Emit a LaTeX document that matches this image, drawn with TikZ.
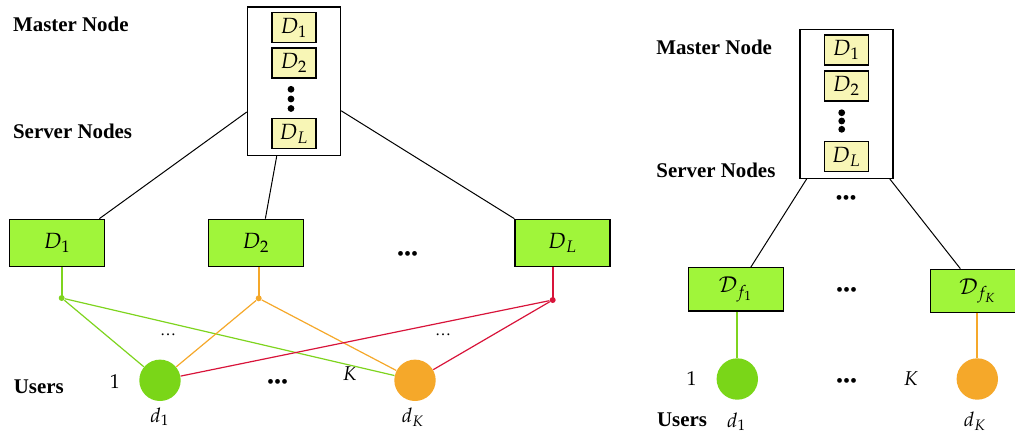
\documentclass[tikz,border=0pt]{standalone}
\usepackage{mathpazo}
\usepackage[no-math]{fontspec}
\setmainfont{Liberation Serif}
\usepackage{tikz}
\usetikzlibrary{positioning}
\definecolor{srvgreen}{HTML}{A0F53A}
\definecolor{fileyellow}{HTML}{F8F6B6}
\definecolor{ugreen}{HTML}{7AD618}
\definecolor{uorange}{HTML}{F5A82A}
\definecolor{lgreen}{HTML}{7ED41E}
\definecolor{lorange}{HTML}{F5A82A}
\definecolor{lred}{HTML}{D8143A}
\tikzset{
    master/.style={
           rectangle,
           draw=black, line width=0.65pt,
           minimum width=46.5pt, minimum height=74.25pt,
           inner sep=0pt,
           },
}
\tikzset{
    file/.style={
           rectangle,
           draw=black, line width=0.6pt,
           fill=fileyellow,
           minimum width=22pt, minimum height=15pt,
           inner sep=0pt,
           font=\fontsize{11}{13}\selectfont,
           },
}
\tikzset{
    server/.style={
           rectangle,
           draw=black, line width=0.65pt,
           fill=srvgreen,
           minimum width=47.5pt, minimum height=23.7pt,
           inner sep=0pt,
           font=\fontsize{11}{13}\selectfont,
           },
}
\tikzset{
    user/.style={
           circle,
           minimum size=20.7pt,
           inner sep=0pt,
           },
}
\tikzset{
    tap/.style={
           circle,
           minimum size=3pt,
           inner sep=0pt,
           },
}
\tikzset{
    blob/.style={circle, fill=black, minimum size=3.4pt, inner sep=0pt},
    lbl/.style={anchor=west, inner sep=0pt, font=\fontsize{10.45}{12}\selectfont\bfseries},
    num/.style={inner sep=0pt},
    dots/.style={inner sep=0pt},
    sdots/.style={inner sep=0pt, font=\footnotesize},
    link/.style={-, black, line width=0.5pt},
    wire/.style={-, line width=0.6pt},
    drop/.style={-, line width=1pt},
}
\begin{document}
\begin{tikzpicture}[x=0.5pt,y=-0.5pt]
\useasboundingbox (0,0) rectangle (1015,435);
% left: every server stores the whole library
\node[lbl](mnL) at (12.7,24){Master Node};
\node[lbl](snL) at (12.7,131){Server Nodes};
\node[lbl](usL) at (13.4,387){Users};
\node[master](ML) at (294,81.3){};
\node[file](MLa) at (294,27.5){$D_1$};
\node[file](MLb) at (294,63){$D_2$};
\node[blob](MLd1) at (291,89.3){};
\node[blob](MLd2) at (291,99){};
\node[blob](MLd3) at (291,108.5){};
\node[file](MLc) at (294,133.6){$D_L$};
\node[server](S1) at (57.2,243){$D_1$};
\node[server](S2) at (256,243){$D_2$};
\node[server](SL) at (562.5,243){$D_L$};
\node[dots](Sd) at (407.6,255.7){\textbullet\textbullet\textbullet};
\node[tap,fill=lgreen](t1) at (61.7,298){};
\node[tap,fill=lorange](t2) at (258.7,298.3){};
\node[tap,fill=lred](tL) at (552.7,300){};
\node[sdots](e1) at (168,335){\ldots};
\node[sdots](e2) at (443,335){\ldots};
\node[user,fill=ugreen](u1) at (160,380.3){};
\node[user,fill=uorange](uK) at (415,380.3){};
\node[num](n1) at (114.8,381.7){$1$};
\node[num](nK) at (350,373.3){$K$};
\node[dots](ud) at (277.5,384){\textbullet\textbullet\textbullet};
\node[num](d1) at (160,416.7){$d_1$};
\node[num](dK) at (413,417){$d_K$};
\path (ML.213.5) edge[link] (S1.30);
\path (ML.257) edge[link] (S2.69);
\path (ML.328) edge[link] (SL.north west);
\draw[drop,draw=lgreen] (t1.center) -- (S1.south -| t1);
\draw[drop,draw=lorange] (t2.center) -- (S2.south -| t2);
\draw[drop,draw=lred] (tL.center) -- (SL.south -| tL);
\path (t1) edge[wire,lgreen] (u1);
\path (t1) edge[wire,lgreen] (uK);
\path (t2) edge[wire,lorange] (u1);
\path (t2) edge[wire,lorange] (uK);
\path (tL) edge[wire,lred] (u1);
\path (tL) edge[wire,lred] (uK);
% right: one server per requested file
\node[lbl](mnR) at (656,47.3){Master Node};
\node[lbl](snR) at (656,170){Server Nodes};
\node[lbl](usR) at (656.7,420){Users};
\node[master](MR) at (846.5,104){};
\node[file](MRa) at (846.3,50){$D_1$};
\node[file](MRb) at (846.3,85.9){$D_2$};
\node[blob](MRd1) at (841.7,112.7){};
\node[blob](MRd2) at (841.7,121){};
\node[blob](MRd3) at (841.7,129.3){};
\node[file](MRc) at (846.3,156.7){$D_L$};
\node[dots](MRs) at (846,200){\textbullet\textbullet\textbullet};
\node[server,minimum height=21.7pt](F1) at (735.8,289.4){$\mathcal{D}_{f_1}$};
\node[server,minimum height=21.7pt](FK) at (977.8,291){$\mathcal{D}_{f_K}$};
\node[dots](Fd) at (846.7,292.3){\textbullet\textbullet\textbullet};
\node[user,fill=ugreen](v1) at (737.3,379){};
\node[user,fill=uorange](vK) at (977.3,379){};
\node[num](m1) at (691.7,379){$1$};
\node[num](mK) at (911,379){$K$};
\node[dots](vd) at (846.7,383){\textbullet\textbullet\textbullet};
\node[num](f1) at (736.7,421.7){$d_1$};
\node[num](fK) at (975,421){$d_K$};
\path (MR.242.4) edge[link] (F1.56.8);
\path (MR.300.8) edge[link] (FK.128.2);
\draw[drop,draw=lgreen] (v1) -- (F1.south -| v1);
\draw[drop,draw=lorange] (vK) -- (FK.south -| vK);
\end{tikzpicture}
\end{document}
